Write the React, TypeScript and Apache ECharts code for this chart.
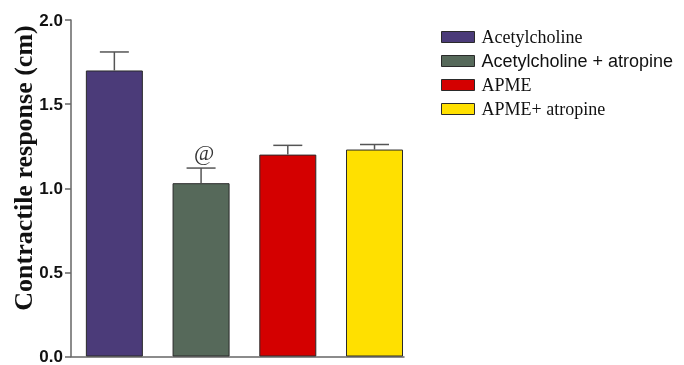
import React, { useEffect, useRef } from "react";
import * as echarts from "echarts";

const categories = ["Acetylcholine", "Acetylcholine + atropine", "APME", "APME+ atropine"];
const positions = [0.5, 1.5, 2.5, 3.5];
const means = [1.7, 1.03, 1.2, 1.23];
const errors = [0.11, 0.09, 0.055, 0.03];
const marks = ["", "@", "", ""];
const colors = ["#4b3b79", "#56695a", "#d40000", "#ffe000"];
const yTicks = [0, 0.5, 1.0, 1.5, 2.0];
const legendFonts = ["Liberation Serif", "Liberation Sans", "Liberation Serif", "Liberation Serif"];

export default function App() {
  const ref = useRef<HTMLDivElement>(null);
  useEffect(() => {
    const chart = echarts.init(ref.current!, null, { renderer: "svg" });
    const barSeries = categories.map((name, i) => ({
      name,
      type: "bar",
      data: [[positions[i], means[i]]],
      barWidth: 57,
      barGap: "-100%",
      itemStyle: { color: colors[i], borderColor: "#2a2a2a", borderWidth: 1 },
    }));
    chart.setOption({
      animation: false,
      grid: { left: 71, top: 20, width: 333, height: 338 },
      legend: {
        orient: "vertical",
        left: 441,
        top: 28,
        padding: 0,
        itemWidth: 33,
        itemHeight: 11,
        itemGap: 6,
        icon: "rect",
        itemStyle: { borderColor: "#2a2a2a", borderWidth: 1 },
        data: categories.map((name, i) => ({
          name,
          textStyle: { fontFamily: legendFonts[i], fontSize: 18, color: "#111", padding: [0, 0, 0, 2] },
        })),
      },
      xAxis: {
        type: "value",
        min: 0,
        max: 3.84,
        axisLine: { show: true, onZero: false, lineStyle: { color: "#666", width: 1.5 } },
        axisTick: { show: false },
        axisLabel: { show: false },
        splitLine: { show: false },
      },
      yAxis: {
        type: "value",
        min: yTicks[0],
        max: yTicks[yTicks.length - 1],
        interval: 0.5,
        axisLine: { show: true, lineStyle: { color: "#666", width: 1.5 } },
        axisTick: { show: true, inside: false, length: 6, lineStyle: { color: "#666", width: 1.5 } },
        axisLabel: {
          margin: 8,
          fontFamily: "Liberation Sans",
          fontWeight: "bold",
          fontSize: 17,
          color: "#111",
          formatter: (v: number) => v.toFixed(1),
        },
        splitLine: { show: false },
      },
      graphic: [
        {
          type: "text",
          x: 23,
          y: 168,
          rotation: Math.PI / 2,
          style: {
            text: "Contractile response (cm)",
            fontFamily: "Liberation Serif",
            fontWeight: "bold",
            fontSize: 26,
            fill: "#111",
            align: "center",
            verticalAlign: "middle",
          },
        },
      ],
      series: [
        ...barSeries,
        {
          type: "custom",
          name: "error",
          z: 5,
          data: positions.map((p, i) => [p, means[i], errors[i], i]),
          renderItem: (params: any, api: any) => {
            const x = api.value(0);
            const m = api.value(1);
            const e = api.value(2);
            const idx = api.value(3);
            const base = api.coord([x, m]);
            const top = api.coord([x, m + e]);
            const half = 14.5;
            const children: any[] = [
              {
                type: "line",
                shape: { x1: base[0], y1: base[1], x2: top[0], y2: top[1] },
                style: { stroke: "#555", lineWidth: 1.5 },
              },
              {
                type: "line",
                shape: { x1: top[0] - half, y1: top[1], x2: top[0] + half, y2: top[1] },
                style: { stroke: "#555", lineWidth: 1.5 },
              },
            ];
            if (marks[idx]) {
              children.push({
                type: "text",
                x: top[0] + 3,
                y: top[1] - 5,
                style: {
                  text: marks[idx],
                  fontFamily: "Liberation Serif",
                  fontSize: 22,
                  fill: "#333",
                  align: "center",
                  verticalAlign: "bottom",
                },
              });
            }
            return { type: "group", children };
          },
        },
      ],
    });
    return () => chart.dispose();
  }, []);
  return <div ref={ref} style={{ position: "fixed", left: 0, top: 0, width: 684, height: 365 }} />;
}
